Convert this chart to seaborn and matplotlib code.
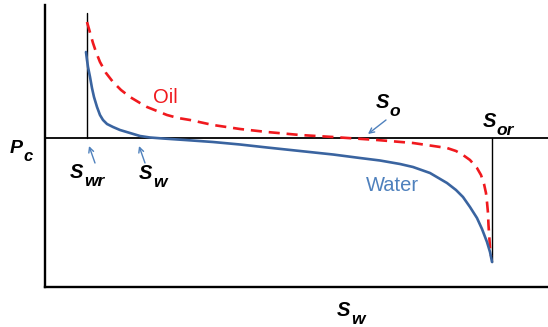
import matplotlib
matplotlib.use("Agg")
import matplotlib.pyplot as plt
import seaborn as sns
import pandas as pd

# Water-wet capillary pressure curves (Sw as a fraction of the axis, Pc in arbitrary units)
water_sw = [0.0815, 0.0835, 0.0855, 0.0895, 0.0934, 0.0974, 0.1034, 0.1093, 0.1153, 0.1233,
            0.1352, 0.1491, 0.1690, 0.1889, 0.2087, 0.2346, 0.2783, 0.3340, 0.3877, 0.4414,
            0.5070, 0.5726, 0.6262, 0.6660, 0.7058, 0.7316, 0.7654, 0.7992, 0.8171, 0.8310,
            0.8449, 0.8588, 0.8688, 0.8787, 0.8847, 0.8887]
water_pc = [0.86, 0.78, 0.71, 0.61, 0.50, 0.41, 0.31, 0.23, 0.18, 0.14,
            0.11, 0.08, 0.05, 0.02, 0.005, -0.005, -0.02, -0.04, -0.065, -0.095,
            -0.13, -0.165, -0.20, -0.225, -0.26, -0.29, -0.35, -0.45, -0.52, -0.59,
            -0.69, -0.80, -0.91, -1.04, -1.14, -1.24]

oil_sw = [0.0835, 0.0875, 0.0914, 0.0954, 0.1014, 0.1093, 0.1213, 0.1352, 0.1511, 0.1690,
          0.1889, 0.2028, 0.2227, 0.2425, 0.2644, 0.2883, 0.3340, 0.3877, 0.4414, 0.5070,
          0.5726, 0.6600, 0.7316, 0.7992, 0.8171, 0.8310, 0.8449, 0.8588, 0.8668, 0.8728,
          0.8767, 0.8787, 0.8807, 0.8817, 0.8837, 0.8847, 0.8867]
oil_pc = [1.16, 1.09, 1.02, 0.95, 0.86, 0.76, 0.65, 0.56, 0.48, 0.41,
          0.35, 0.31, 0.27, 0.23, 0.20, 0.18, 0.13, 0.09, 0.06, 0.03,
          0.01, -0.02, -0.05, -0.10, -0.13, -0.17, -0.22, -0.30, -0.37, -0.46,
          -0.55, -0.64, -0.75, -0.87, -1.02, -1.10, -1.18]

# End-point saturations and the extent of their marker lines
swr = 0.0835
sor_sw = 0.8887
swr_top = 1.25
sor_bottom = -1.24

water_df = pd.DataFrame({"Sw": water_sw, "Pc": water_pc})
oil_df = pd.DataFrame({"Sw": oil_sw, "Pc": oil_pc})

sns.set_theme(style="white")
plt.rcParams["font.family"] = ["Liberation Sans", "DejaVu Sans"]

WATER_LINE = "#3A64A0"
WATER_TEXT = "#4F81BD"
OIL_RED = "#F0191E"

fig = plt.figure(figsize=(5.48, 3.27), dpi=100)
ax = fig.add_axes([45 / 548, 40 / 327, 503 / 548, 282 / 327])
ax.set_xlim(0, 1.0)
ax.set_ylim(-1.49, 1.33)

# Zero capillary pressure line and end-point markers
ax.axhline(0, color="black", lw=1.3, zorder=1)
ax.plot([swr, swr], [0, swr_top], color="black", lw=1.0, zorder=1)
ax.plot([sor_sw, sor_sw], [0, sor_bottom], color="black", lw=1.0, zorder=1)

sns.lineplot(data=water_df, x="Sw", y="Pc", sort=False, estimator=None,
             color=WATER_LINE, lw=1.9, ax=ax, zorder=3)
sns.lineplot(data=oil_df, x="Sw", y="Pc", sort=False, estimator=None,
             color=OIL_RED, lw=1.9, dashes=False, ax=ax, zorder=2)
ax.lines[-1].set_dashes((4.2, 2.6))

for side in ("top", "right"):
    ax.spines[side].set_visible(False)
for side in ("left", "bottom"):
    ax.spines[side].set_color("black")
    ax.spines[side].set_linewidth(1.7)
ax.set_xticks([])
ax.set_yticks([])
ax.set_xlabel("")
ax.set_ylabel("")

BOLD_IT = dict(fontweight="bold", fontstyle="italic", color="black")


def sub_label(x, y, main, sub, size=14.5, sub_size=12.5, drop=-3.0):
    t = ax.text(x, y, main, fontsize=size, ha="left", va="baseline", **BOLD_IT)
    ax.annotate(sub, xy=(1, 0), xycoords=t, xytext=(0.3, drop),
                textcoords="offset points", fontsize=sub_size,
                ha="left", va="baseline", **BOLD_IT)


sub_label(-0.0696, -0.15, "P", "c", size=14, sub_size=12)
sub_label(0.0497, -0.40, "S", "wr")
sub_label(0.1869, -0.41, "S", "w")
sub_label(0.6581, 0.30, "S", "o")
sub_label(0.8708, 0.11, "S", "or")
sub_label(0.5805, -1.78, "S", "w")

ax.text(0.2386, 0.35, "Oil", color=OIL_RED, fontsize=14.5, ha="center", va="baseline")
ax.text(0.6909, -0.53, "Water", color=WATER_TEXT, fontsize=14.5, ha="center", va="baseline")

arrow = dict(arrowstyle="->", color=WATER_TEXT, lw=1.0, shrinkA=0, shrinkB=0,
             mutation_scale=9)
ax.annotate("", xy=(0.0875, -0.08), xytext=(0.0994, -0.25), arrowprops=arrow)
ax.annotate("", xy=(0.1869, -0.08), xytext=(0.1988, -0.25), arrowprops=arrow)
ax.annotate("", xy=(0.6421, 0.04), xytext=(0.6779, 0.18), arrowprops=arrow)

fig.savefig("out.png", dpi=100)
